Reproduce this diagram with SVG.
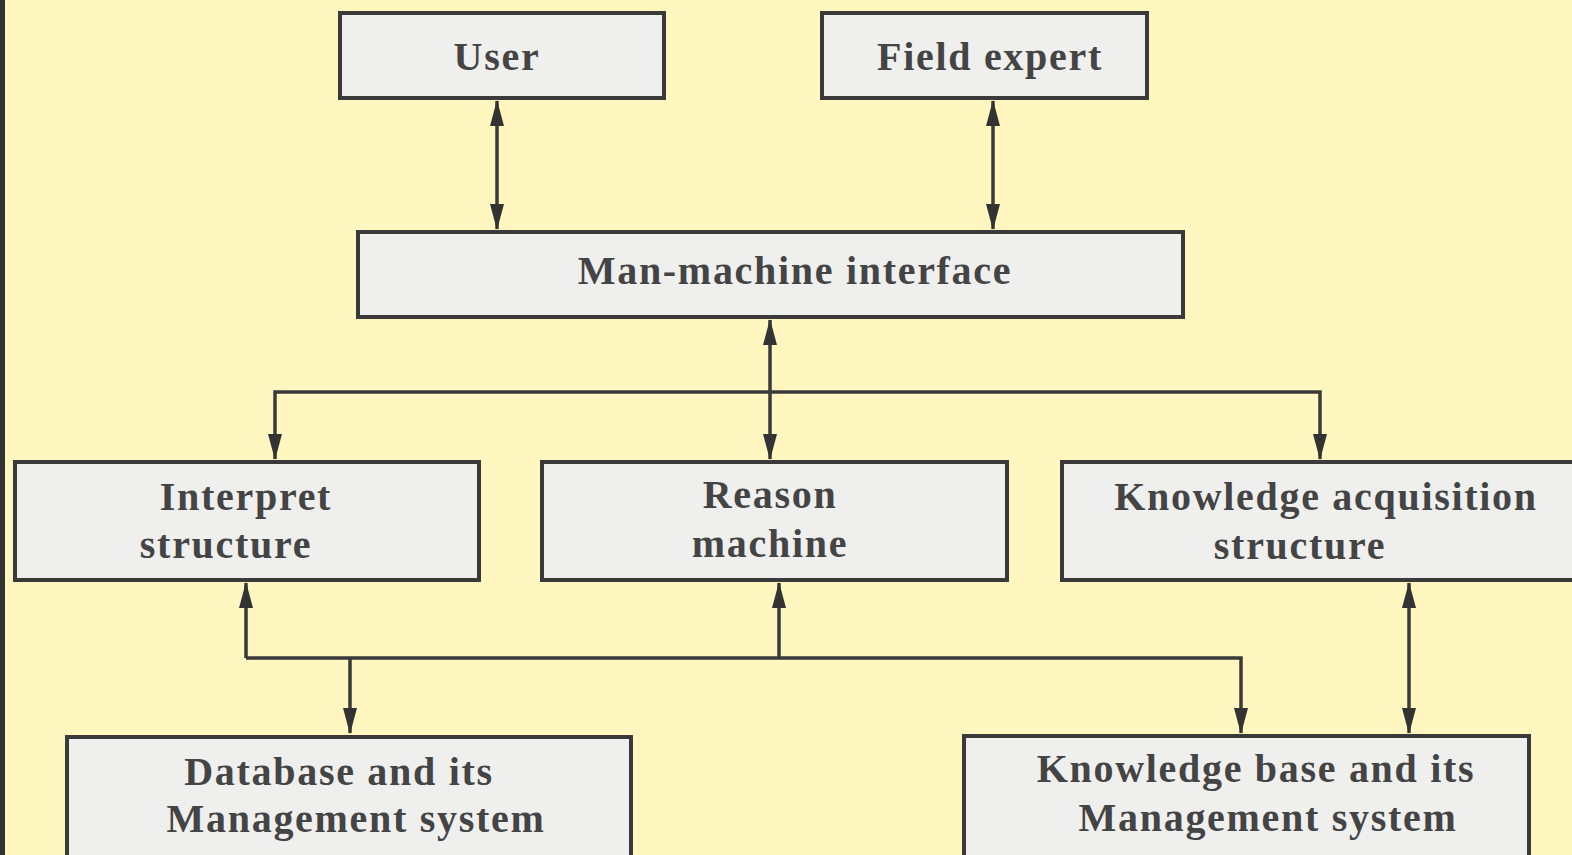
<svg xmlns="http://www.w3.org/2000/svg" width="1572" height="855" viewBox="0 0 1572 855">
<defs>
<style>
.box{fill:#efefee;stroke:#3a3a3a;stroke-width:4}
.t{font-family:"Liberation Serif","Times New Roman",serif;font-size:40px;font-weight:bold;fill:#444;text-anchor:middle;letter-spacing:1.7px}
.c{fill:none;stroke:#3a3a3a;stroke-width:3.5}
</style>
<marker id="ah" viewBox="0 0 26 14" refX="25" refY="7" markerWidth="26" markerHeight="14" markerUnits="userSpaceOnUse" orient="auto-start-reverse">
<path d="M0,0 L26,7 L0,14 Z" fill="#333"/>
</marker>
</defs>
<rect x="0" y="0" width="1572" height="855" fill="#fff7bf"/>
<rect x="0" y="0" width="5" height="855" fill="#333"/>
<g id="connectors">
<line class="c" x1="497" y1="101" x2="497" y2="229" marker-start="url(#ah)" marker-end="url(#ah)"/>
<line class="c" x1="993" y1="101" x2="993" y2="229" marker-start="url(#ah)" marker-end="url(#ah)"/>
<line class="c" x1="770" y1="320" x2="770" y2="459" marker-start="url(#ah)" marker-end="url(#ah)"/>
<path class="c" d="M275,459 V392 H1320 V459" marker-start="url(#ah)" marker-end="url(#ah)"/>
<line class="c" x1="246" y1="583" x2="246" y2="658" marker-start="url(#ah)"/>
<path class="c" d="M246,658 H1241 V733" marker-end="url(#ah)"/>
<line class="c" x1="779" y1="583" x2="779" y2="658" marker-start="url(#ah)"/>
<line class="c" x1="350" y1="658" x2="350" y2="733" marker-end="url(#ah)"/>
<line class="c" x1="1409" y1="583" x2="1409" y2="733" marker-start="url(#ah)" marker-end="url(#ah)"/>
</g>
<g id="user"><rect class="box" x="340" y="13" width="324" height="85"/><text class="t" x="497" y="70">User</text></g>
<g id="field-expert"><rect class="box" x="822" y="13" width="325" height="85"/><text class="t" x="990" y="70">Field expert</text></g>
<g id="mmi"><rect class="box" x="358" y="232" width="825" height="85"/><text class="t" x="795" y="284">Man-machine interface</text></g>
<g id="interpret"><rect class="box" x="15" y="462" width="464" height="118"/><text class="t" x="246" y="510">Interpret</text><text class="t" x="226" y="558">structure</text></g>
<g id="reason"><rect class="box" x="542" y="462" width="465" height="118"/><text class="t" x="770" y="508">Reason</text><text class="t" x="770" y="557">machine</text></g>
<g id="knowledge-acq"><rect class="box" x="1062" y="462" width="520" height="118"/><text class="t" x="1326" y="510">Knowledge acquisition</text><text class="t" x="1300" y="559">structure</text></g>
<g id="database"><rect class="box" x="67" y="737" width="564" height="130"/><text class="t" x="339" y="785">Database and its</text><text class="t" x="356" y="832">Management system</text></g>
<g id="knowledge-base"><rect class="box" x="964" y="736" width="565" height="130"/><text class="t" x="1256" y="782">Knowledge base and its</text><text class="t" x="1268" y="831">Management system</text></g>
</svg>
